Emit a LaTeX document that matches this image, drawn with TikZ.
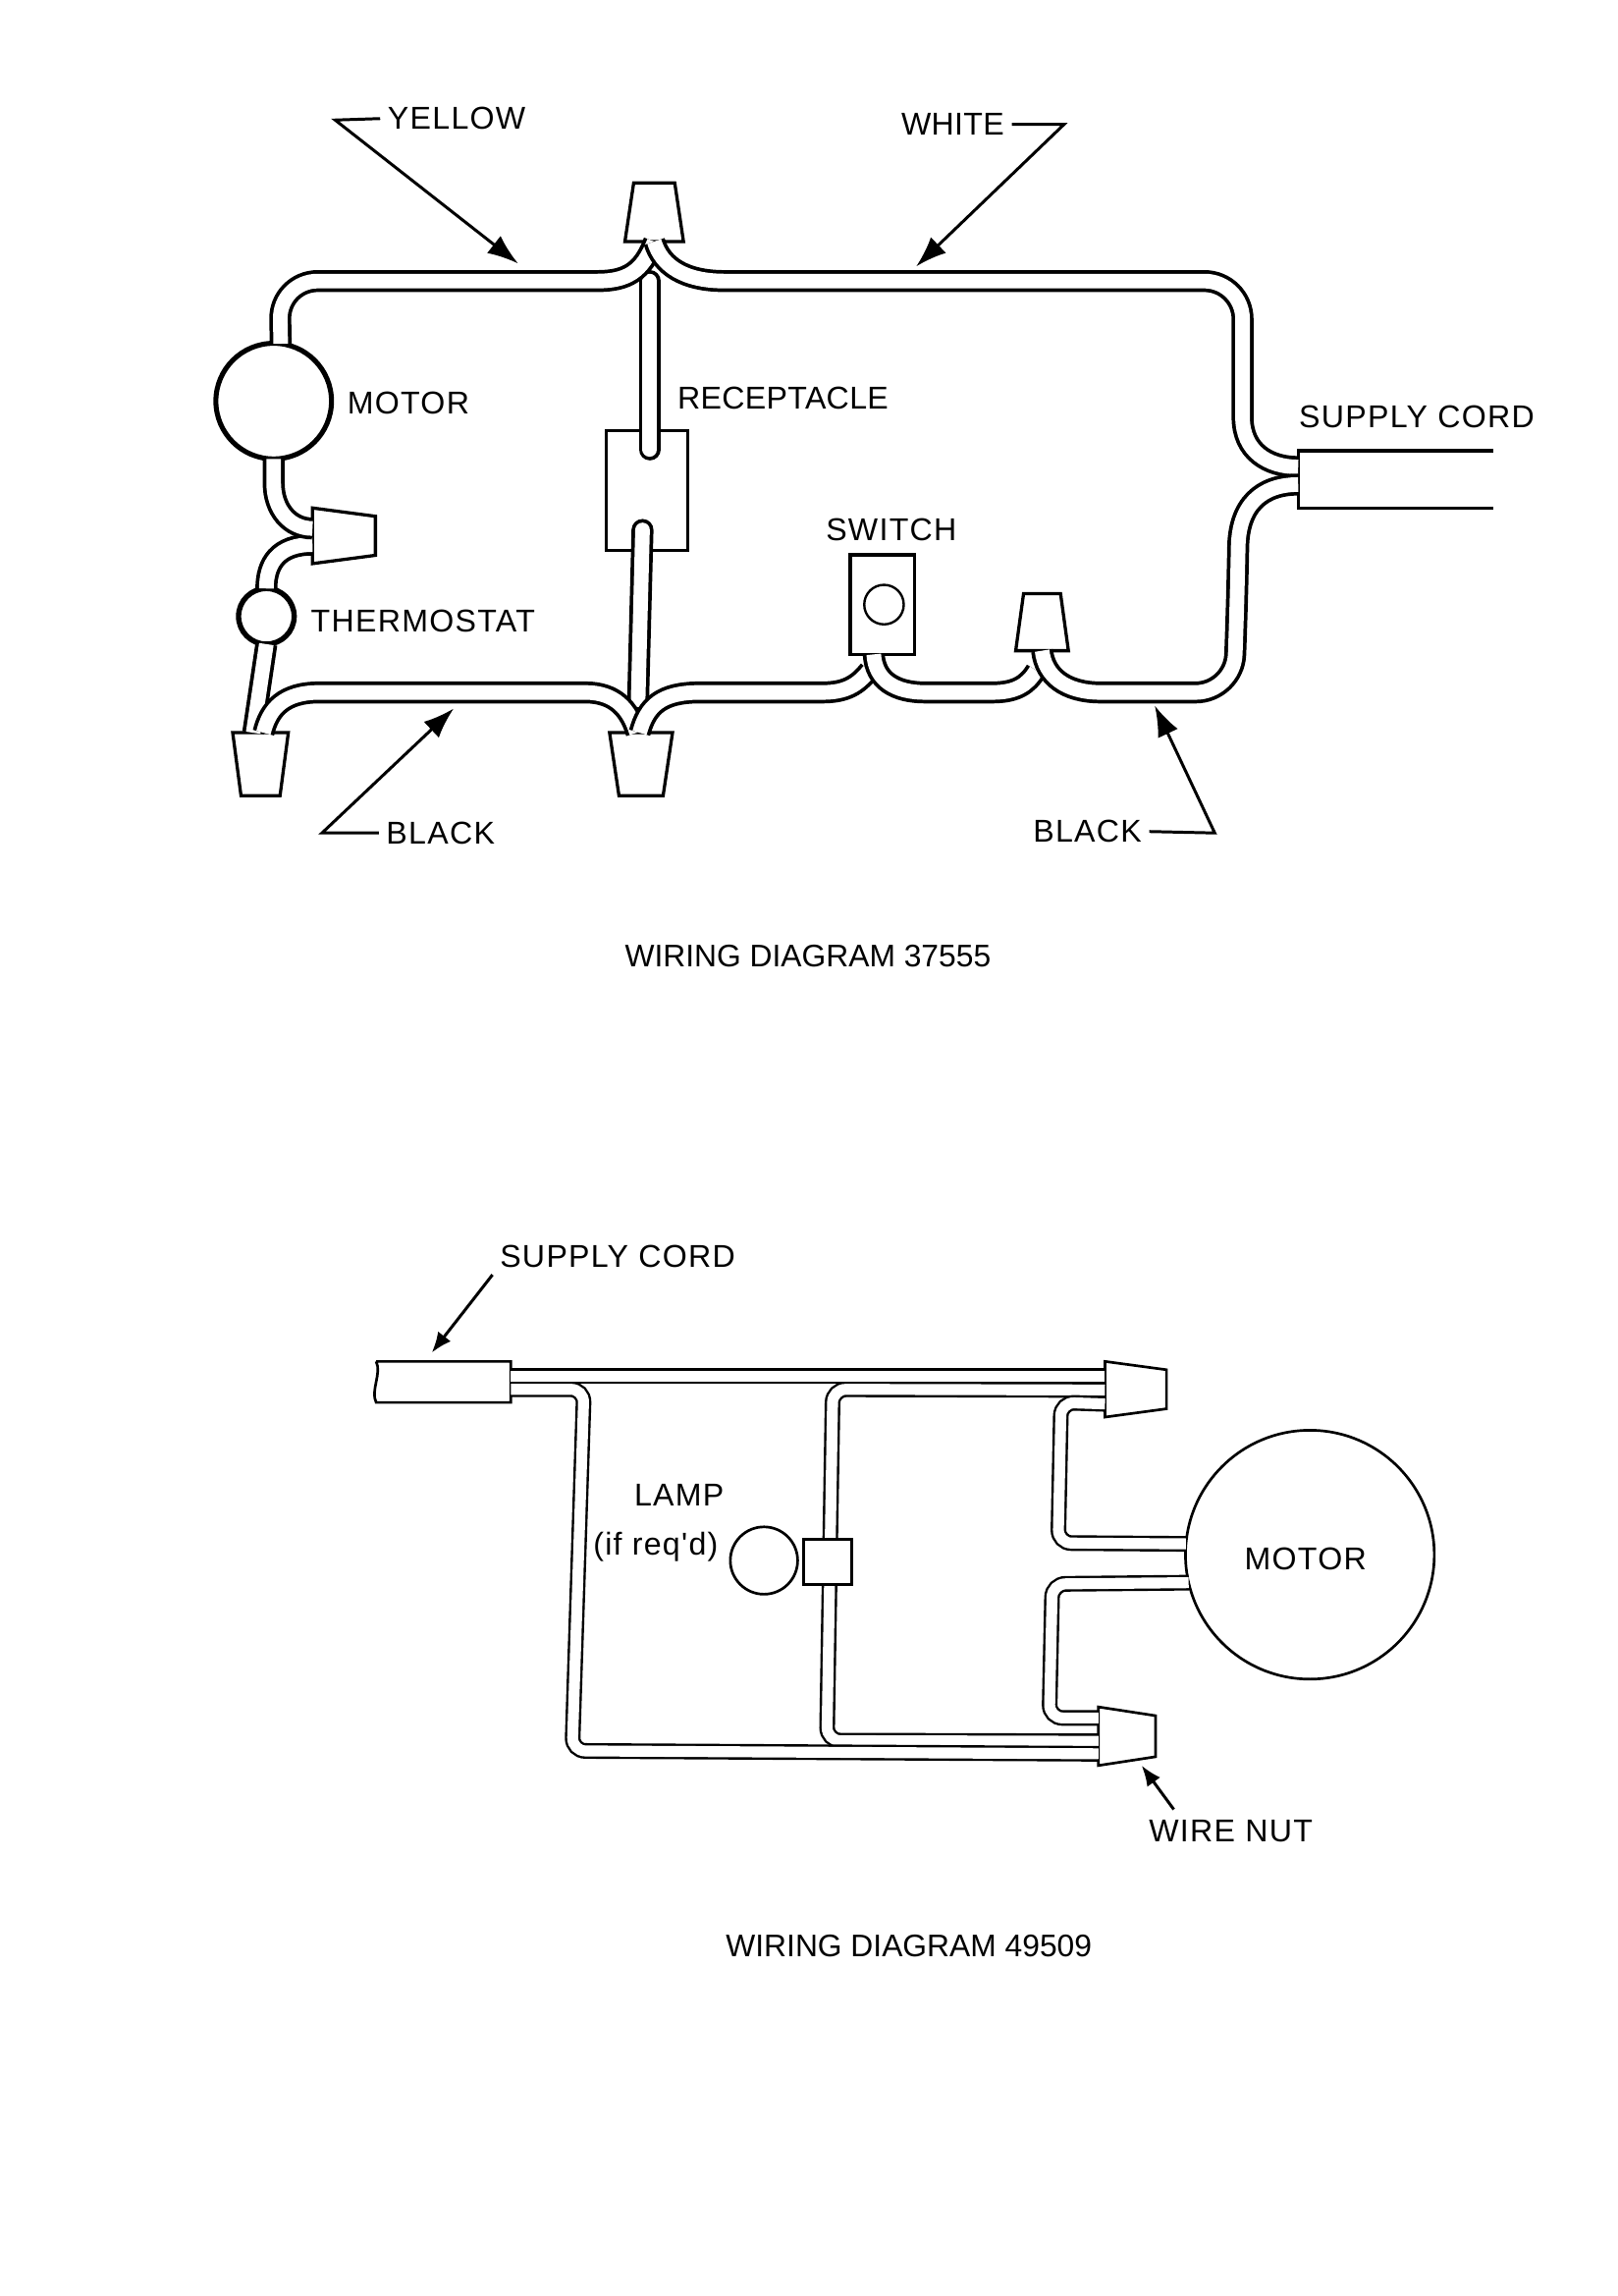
\documentclass[tikz,border=0pt]{standalone}
\usepackage{fontspec}
\setmainfont{Liberation Sans}
\newfontfamily\tagfont{Liberation Sans}[LetterSpace=4]
\newfontfamily\tightfont{Liberation Sans}[LetterSpace=1]
\usetikzlibrary{arrows.meta,calc,shapes.geometric}
\newcommand{\uu}{0.015cm}
\tikzset{
	wire/.style={double=white, line width=2.5*\uu, double distance=10*\uu},
	capwire/.style={wire, line cap=round},
	thinwire/.style={double=white, line width=1.6*\uu, double distance=7.5*\uu, rounded corners=9*\uu},
	corner/.style={rounded corners=26*\uu},
	nut/.style={trapezium, draw, fill=white, trapezium stretches=true, trapezium angle=78, inner sep=0pt, outer sep=0pt, text width=1pt, text height=1pt, text depth=0pt, line width=2.2*\uu},
	part/.style={draw, fill=white, inner sep=0pt, outer sep=0pt, line width=2.2*\uu},
	tag/.style={font=\tagfont\fontsize{9.2}{11}\selectfont, inner sep=2pt},
	tighttag/.style={font=\tightfont\fontsize{9.2}{11}\selectfont, inner sep=2pt},
	caption/.style={font=\fontsize{9.1}{11}\selectfont, inner sep=0pt},
	leader/.style={line width=2*\uu, -{Latex[length=21*\uu, width=15*\uu]}},
	smallleader/.style={line width=2*\uu, -{Latex[length=14*\uu, width=11*\uu]}},
}
\begin{document}
\begin{tikzpicture}[x=\uu, y=-\uu]
	\useasboundingbox (0,0) rectangle (1105.5,1568.4);

	% Upper diagram: parts
	\node[part, circle, minimum size=79*\uu, line width=3.4*\uu] (motorA) at (187,274) {};
	\node[part, circle, minimum size=38*\uu, line width=3.6*\uu] (thermo) at (182,421) {};
	\node[part, minimum width=56*\uu, minimum height=82*\uu] (recept) at (442,335) {};
	\node[part, minimum width=44*\uu, minimum height=68*\uu] (switchbox) at (603,413) {};
	\node[part, circle, minimum size=27*\uu, line width=1.6*\uu] (knob) at (604,413) {};
	\node[nut, minimum width=40*\uu, minimum height=40*\uu] (nutTop) at (447,145) {};
	\node[nut, minimum width=38*\uu, minimum height=43*\uu, rotate=-90] (nutMotor) at (235,366) {};
	\node[nut, minimum width=38*\uu, minimum height=43*\uu, rotate=180] (nutLeft) at (178,522) {};
	\node[nut, minimum width=43*\uu, minimum height=43*\uu, rotate=180] (nutMid) at (438,522) {};
	\node[nut, minimum width=36*\uu, minimum height=39*\uu] (nutSwitch) at (712,425) {};
	\node[inner sep=0pt, outer sep=0pt, minimum width=133*\uu, minimum height=39*\uu] (cordA) at (953.5,327.5) {};
	\draw[line width=2.2*\uu] (cordA.north east) -- (cordA.north west) -- (cordA.south west) -- (cordA.south east);

	% Wires
	\draw[capwire] ($(recept.north)+(2,13)$) -- (444,192);
	\draw[capwire] ($(recept.south)+(-3,-14)$) -- (436,478);
	\draw[wire] (motorA.83) [corner] -- (191,192) -- (360,192) [sharp corners] -- (408,192) .. controls (428,192) and (439,186) .. (nutTop.bottom side);
	\draw[wire] (nutTop.bottom side) .. controls (452,182) and (468,192) .. (495,192) [corner] -- (849,192) -- (849,250) [sharp corners] -- (849,285) .. controls (849,308) and (866,319) .. (887,319);
	\draw[wire] (thermo.north) .. controls (182,385) and (190,372) .. ($(nutMotor.bottom side)+(0,6)$);
	\draw[wire] (motorA.south) -- (187,330) .. controls (187,348) and (198,361) .. ($(nutMotor.bottom side)+(0,-5)$);
	\draw[wire] (thermo.south) -- ($(nutLeft.bottom side)+(-5,0)$);
	\draw[wire] ($(nutLeft.bottom side)+(2,0)$) .. controls (184,484) and (194,473) .. (218,473) -- (400,473) .. controls (420,473) and (430,484) .. ($(nutMid.bottom side)+(-3,0)$);
	\draw[wire] ($(nutMid.bottom side)+(-1,0)$) .. controls (442,482) and (452,473) .. (478,473) -- (562,473) .. controls (578,473) and (586,468) .. (594,458);
	\draw[wire] ($(switchbox.south)+(-6,0)$) .. controls (598,465) and (612,473) .. (632,473) -- (678,473) .. controls (694,473) and (702,468) .. (708,458);
	\draw[wire] (nutSwitch.bottom side) .. controls (714,462) and (728,473) .. (752,473) [corner] -- (843,473) -- (845,420) [sharp corners] -- (846,375) .. controls (846,345) and (862,331) .. (887,331);

	% Upper diagram: labels
	\node[tag] (lblYellow) at (312,81) {YELLOW};
	\node[tighttag] (lblWhite) at (651,85) {WHITE};
	\node[tag] (lblMotorA) at (279,275) {MOTOR};
	\node[tighttag] (lblRecept) at (535,272) {RECEPTACLE};
	\node[tag] (lblSwitch) at (609,362) {SWITCH};
	\node[tag] (lblThermo) at (289,424) {THERMOSTAT};
	\node[tag] (lblSupplyA) at (968,285) {SUPPLY CORD};
	\node[tag] (lblBlackA) at (301,569) {BLACK};
	\node[tag] (lblBlackB) at (743,568) {BLACK};
	\coordinate (tipYellow) at (354,180);
	\coordinate (tipWhite) at (626,182);
	\coordinate (tipBlackA) at (310,484);
	\coordinate (tipBlackB) at (789,482);
	\draw[leader] (lblYellow.west) -- (229,82) -- (tipYellow);
	\draw[leader] (lblWhite.east) -- (727,85) -- (tipWhite);
	\draw[leader] (lblBlackA.west) -- (220,569) -- (tipBlackA);
	\draw[leader] (lblBlackB.east) -- (830,569) -- (tipBlackB);
	\node[caption] (capA) at (552,653) {WIRING DIAGRAM 37555};

	% Lower diagram: parts
	\node[part, circle, minimum size=170*\uu, line width=1.8*\uu] (motorB) at (895,1062) {};
	\node[part, circle, minimum size=46*\uu, line width=1.8*\uu] (lamp) at (522,1066) {};
	\node[nut, minimum width=38*\uu, minimum height=42*\uu, rotate=-90, line width=1.8*\uu] (nutHigh) at (776,949) {};
	\node[nut, minimum width=40*\uu, minimum height=39*\uu, rotate=-90, line width=1.8*\uu] (nutLow) at (770,1186) {};
	\node[inner sep=0pt, outer sep=0pt, minimum width=92*\uu, minimum height=28*\uu] (cordB) at (303,944) {};
	\draw[line width=1.8*\uu] (cordB.north west) -- (cordB.north east) -- (cordB.south east) -- (cordB.south west) .. controls (253,950) and (261,938) .. (cordB.north west);

	% Wires
	\draw[thinwire] ($(nutHigh.bottom side)+(0,0.5)$) -- (569,949) -- (565,1189) -- ($(nutLow.bottom side)+(0,3.5)$);
	\draw[thinwire] ($(cordB.east)+(0,5)$) -- (399,949) -- (391,1196) -- ($(nutLow.bottom side)+(0,12)$);
	\draw[thinwire] ($(cordB.east)+(0,-4)$) -- ($(nutHigh.bottom side)+(0,-9)$);
	\draw[thinwire] ($(nutHigh.bottom side)+(0,10)$) -- (725,958) -- (723,1054) -- (motorB.175);
	\draw[thinwire] (motorB.193.5) -- (719,1082) -- (717,1173.5) -- ($(nutLow.bottom side)+(0,-12.5)$);
	\node[part, minimum width=33*\uu, minimum height=31*\uu, line width=1.8*\uu] (lampbox) at (565.5,1067) {};

	% Lower diagram: labels
	\node[tag] (lblMotorB) at (892,1065) {MOTOR};
	\node[tag] (lblSupplyB) at (422,858) {SUPPLY CORD};
	\node[tag] (lblLamp) at (464,1021) {LAMP};
	\node[tag] (lblIfReq) at (448,1057) {(if req'd)};
	\node[tag] (lblNut) at (841,1251) {WIRE NUT};
	\coordinate (tailNut) at (802,1236);
	\coordinate (tipSupply) at (295,924);
	\coordinate (tipNut) at (780,1206);
	\draw[smallleader] (lblSupplyB.south west) -- (tipSupply);
	\draw[smallleader] (tailNut) -- (tipNut);
	\node[caption] (capB) at (621,1329) {WIRING DIAGRAM 49509};
\end{tikzpicture}
\end{document}
